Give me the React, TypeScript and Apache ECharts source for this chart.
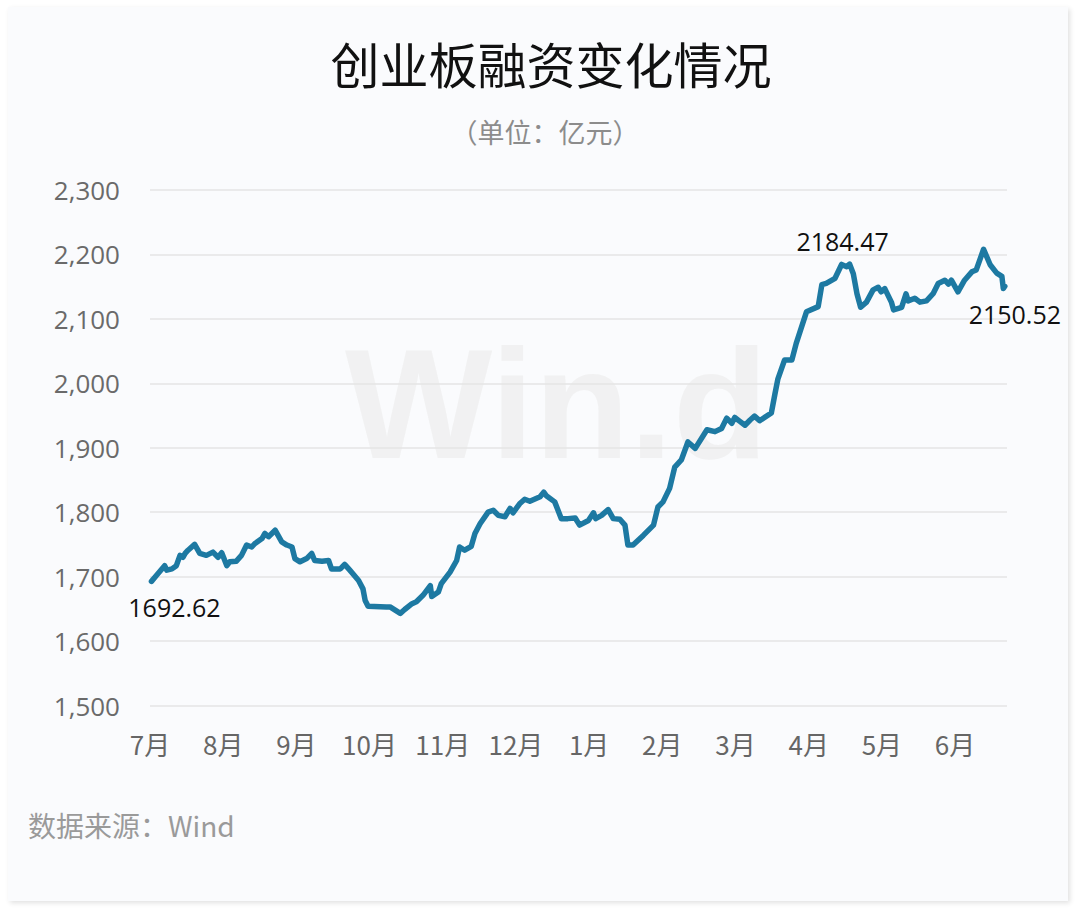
import React, { useEffect, useRef } from "react";
import * as echarts from "echarts";

const monthLabels = ["7月", "8月", "9月", "10月", "11月", "12月", "1月", "2月", "3月", "4月", "5月", "6月"];

// position of each reading, in months since the start of July
const pointMonth = [
  0.02, 0.09, 0.2, 0.23, 0.3, 0.36, 0.41, 0.45, 0.48, 0.52, 0.61, 0.68, 0.77, 0.86, 0.93, 0.98,
  1.05, 1.09, 1.18, 1.25, 1.32, 1.39, 1.43, 1.53, 1.57, 1.62, 1.71, 1.8, 1.87, 1.94, 1.98,
  2.05, 2.14, 2.21, 2.25, 2.35, 2.44, 2.48, 2.6, 2.66, 2.73, 2.85, 2.91, 2.94, 2.98,
  3.23, 3.28, 3.35, 3.42, 3.48, 3.58, 3.64, 3.73, 3.83, 3.85, 3.94, 3.98,
  4.1, 4.19, 4.23, 4.3, 4.39, 4.44, 4.51, 4.62, 4.69, 4.76, 4.85, 4.92, 4.96,
  5.05, 5.12, 5.19, 5.33, 5.38, 5.42, 5.53, 5.62, 5.71, 5.81, 5.87, 5.99,
  6.06, 6.09, 6.17, 6.26, 6.33, 6.42, 6.49, 6.53, 6.6, 6.74, 6.88, 6.94,
  7.01, 7.1, 7.17, 7.26, 7.35, 7.45, 7.61, 7.72, 7.81, 7.88, 7.95, 7.99,
  8.06, 8.13, 8.2, 8.26, 8.33, 8.49, 8.54, 8.58, 8.67, 8.77, 8.83, 8.97,
  9.13, 9.18, 9.24, 9.36, 9.45, 9.52, 9.56, 9.61, 9.66, 9.71, 9.79, 9.88, 9.95, 9.99,
  10.04, 10.13, 10.16, 10.27, 10.33, 10.36, 10.45, 10.52, 10.61, 10.7, 10.77, 10.86, 10.91, 10.95,
  11.04, 11.13, 11.23, 11.29, 11.39, 11.48, 11.57, 11.64, 11.66, 11.68,
];

// 融资余额 (亿元)
const financing = [
  1692.62, 1702, 1717, 1710, 1712, 1717, 1733, 1730, 1736, 1741, 1750, 1736, 1733, 1738, 1730, 1737,
  1717, 1723, 1724, 1733, 1749, 1746, 1751, 1759, 1767, 1762, 1772, 1754, 1749, 1746, 1728,
  1723, 1728, 1736, 1725, 1724, 1725, 1712, 1712, 1719, 1710, 1694, 1681, 1663, 1654,
  1653, 1653, 1648, 1643, 1649, 1658, 1661, 1671, 1686, 1669, 1676, 1689,
  1707, 1725, 1746, 1741, 1747, 1767, 1782, 1800, 1803, 1795, 1793, 1806, 1799,
  1813, 1820, 1817, 1824, 1831, 1825, 1816, 1790, 1790, 1791, 1780, 1787,
  1799, 1790, 1795, 1804, 1790, 1789, 1780, 1749, 1749, 1764, 1780, 1808,
  1816, 1837, 1870, 1881, 1909, 1899, 1928, 1925, 1930, 1946, 1938, 1947,
  1941, 1935, 1943, 1949, 1942, 1954, 1984, 2007, 2036, 2036, 2062, 2111,
  2119, 2153, 2155, 2163, 2184.47, 2181, 2185, 2170, 2139, 2118, 2126, 2145, 2149, 2142,
  2147, 2126, 2114, 2118, 2139, 2128, 2132, 2126, 2128, 2139, 2155, 2160, 2154, 2160,
  2142, 2160, 2173, 2176, 2208, 2184, 2171, 2166, 2147, 2150.52,
];

const annotatedMonth = [0.02, 9.45, 11.68];
const annotatedValue = [1692.62, 2184.47, 2150.52];

const yTicks = { min: 1500, max: 2300, step: 100 };

export default function App() {
  const ref = useRef<HTMLDivElement>(null);

  useEffect(() => {
    document.body.style.margin = "0";
    if (!ref.current) return;
    const chart = echarts.init(ref.current, null, { renderer: "svg" });
    const data = pointMonth.map((m, i) => [m, financing[i]]);
    const numFont = "'Open Sans', 'Noto Sans CJK SC', sans-serif";
    const cjkFont = "'Noto Sans CJK SC', 'Noto Sans', sans-serif";
    const labelStyles = [
      { position: "bottom", offset: [23, 13] },
      { position: "top", offset: [1, -10] },
      { position: "bottom", offset: [10, 15] },
    ];
    chart.setOption({
      animation: false,
      backgroundColor: "transparent",
      title: [
        {
          text: "创业板融资变化情况",
          left: 546,
          textAlign: "center",
          top: 33,
          textStyle: { fontFamily: cjkFont, fontSize: 49, fontWeight: "normal", color: "#111111" },
        },
        {
          text: "（单位：亿元）",
          left: 540,
          textAlign: "center",
          top: 113,
          textStyle: { fontFamily: cjkFont, fontSize: 27, fontWeight: "normal", color: "#8c8c8c" },
        },
      ],
      graphic: [
        {
          type: "text",
          left: 345,
          top: 326,
          z: 0,
          silent: true,
          style: {
            text: "Win.d",
            fontFamily: "'Liberation Sans', Arial, sans-serif",
            fontWeight: "bold",
            fontSize: 156,
            fill: "#ededed",
            opacity: 0.75,
          },
        },
        {
          type: "text",
          left: 28,
          top: 811,
          style: {
            text: "数据来源：Wind",
            fontFamily: cjkFont,
            fontSize: 28,
            fill: "#9a9a9a",
          },
        },
      ],
      grid: { left: 150, top: 190, width: 857, height: 515.5, containLabel: false },
      xAxis: {
        type: "value",
        min: 0,
        max: 11.71,
        interval: 1,
        axisLine: { show: false },
        axisTick: { show: false },
        splitLine: { show: false },
        axisLabel: {
          margin: 25,
          fontFamily: cjkFont,
          fontSize: 26,
          color: "#666666",
          formatter: (v: number) => monthLabels[Math.round(v)] ?? "",
          showMaxLabel: false,
        },
      },
      yAxis: {
        type: "value",
        min: yTicks.min,
        max: yTicks.max,
        interval: yTicks.step,
        axisLine: { show: false },
        axisTick: { show: false },
        splitLine: { lineStyle: { color: "#e4e4e4", width: 1.5 } },
        axisLabel: {
          margin: 30,
          fontFamily: numFont,
          fontSize: 26,
          color: "#6a6a6a",
          formatter: (v: number) => v.toLocaleString("en-US"),
        },
      },
      series: [
        {
          type: "line",
          data,
          showSymbol: false,
          lineStyle: { color: "#1d79a2", width: 5.5, join: "round", cap: "round" },
          markPoint: {
            symbol: "rect",
            symbolSize: 1,
            itemStyle: { color: "transparent" },
            data: annotatedMonth.map((m, i) => ({
              coord: [m, annotatedValue[i]],
              value: annotatedValue[i],
              label: {
                show: true,
                position: labelStyles[i].position,
                distance: 0,
                offset: labelStyles[i].offset,
                formatter: () => annotatedValue[i].toFixed(2),
                fontFamily: numFont,
                fontSize: 25,
                color: "#111111",
              },
            })),
          },
        },
      ],
    });
    return () => chart.dispose();
  }, []);

  return (
    <div style={{ position: "relative", width: 1080, height: 909, background: "#ffffff", overflow: "hidden" }}>
      <div
        style={{
          position: "absolute",
          left: 8,
          top: 7,
          width: 1060,
          height: 894,
          background: "#fafbfd",
          boxShadow: "2px 2px 5px rgba(0,0,0,0.12)",
        }}
      />
      <div ref={ref} style={{ position: "absolute", left: 0, top: 0, width: 1080, height: 909 }} />
    </div>
  );
}
